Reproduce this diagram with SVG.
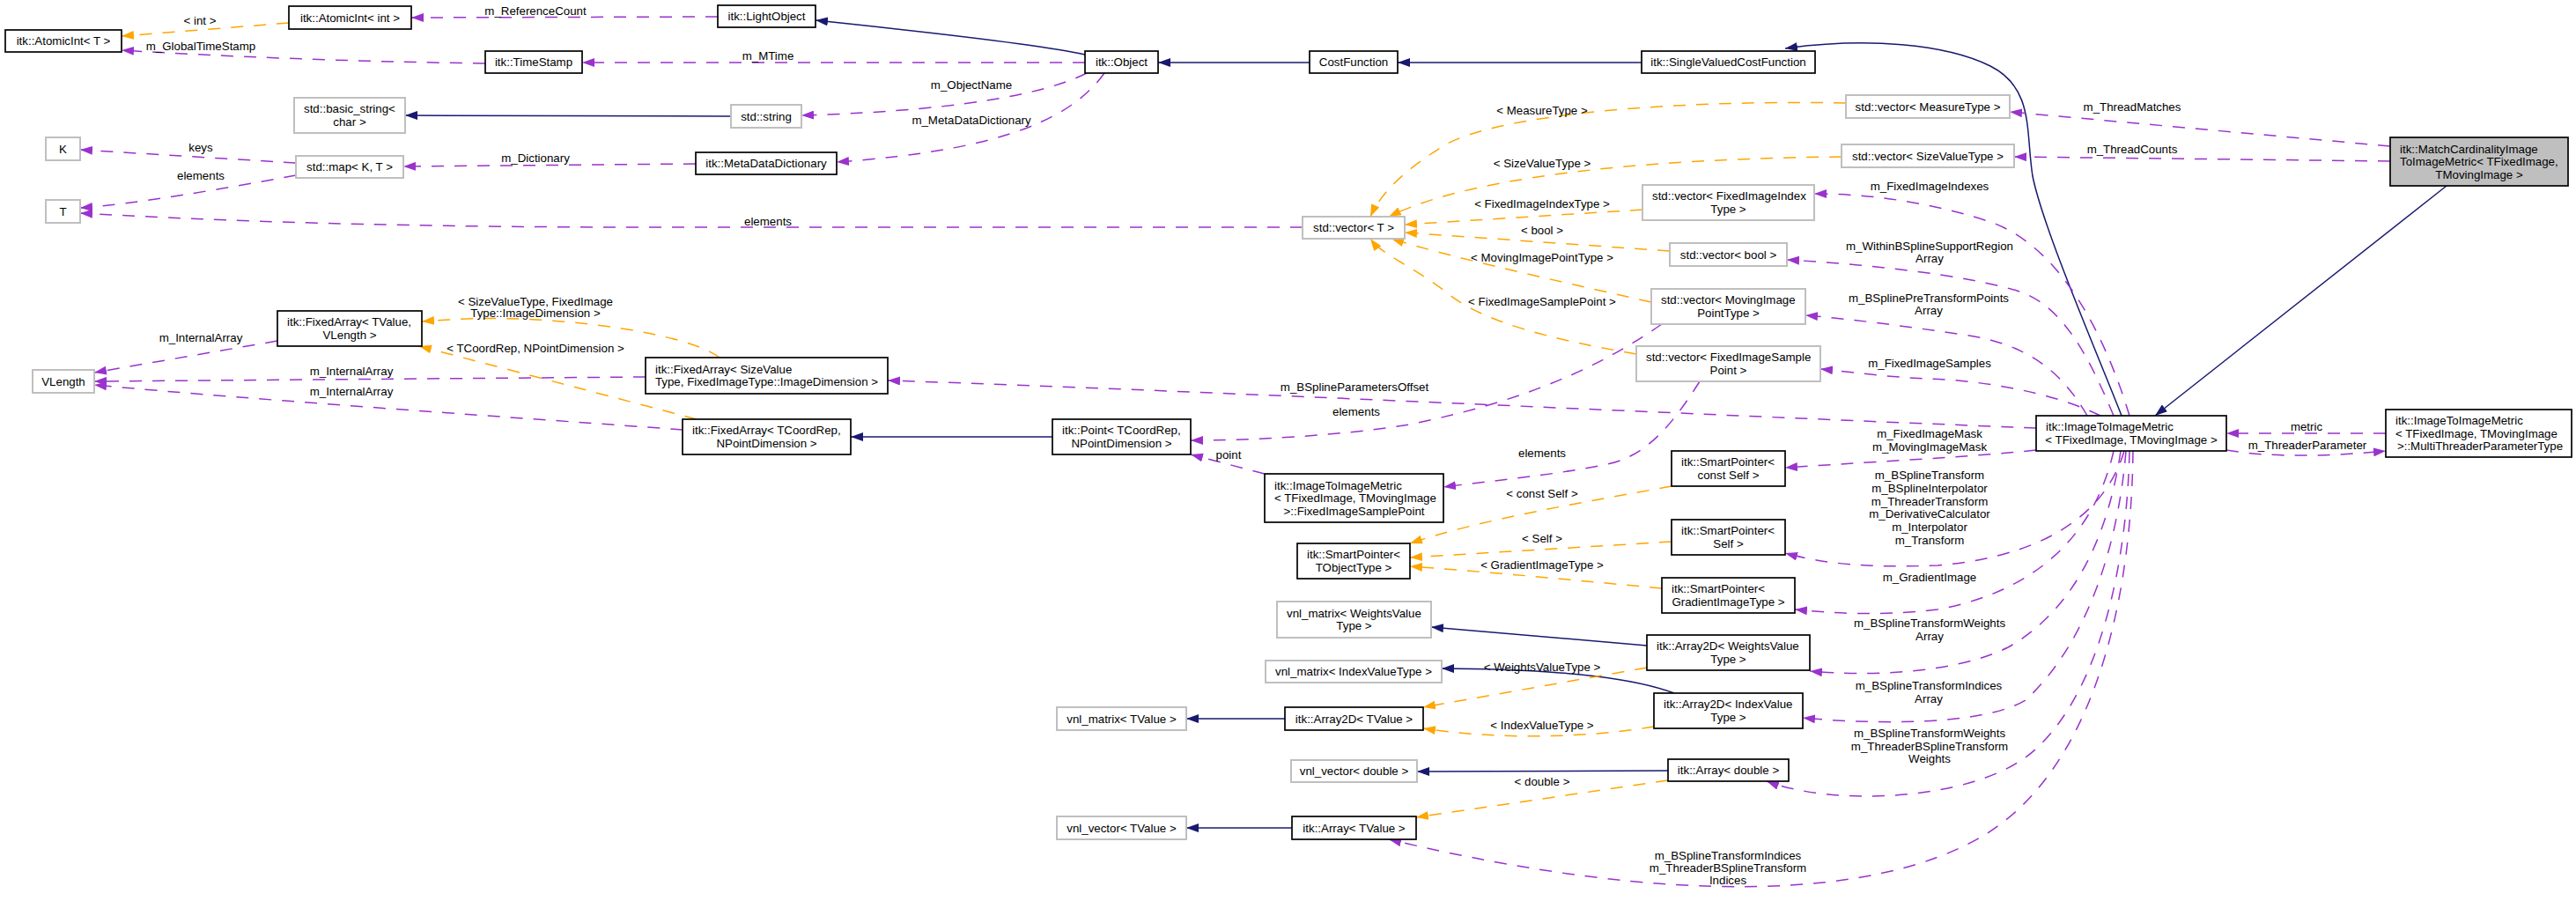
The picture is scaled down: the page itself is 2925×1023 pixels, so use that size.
<svg xmlns="http://www.w3.org/2000/svg" width="2925" height="1023" viewBox="0 0 2925 1023">
<style>
.n rect{fill:#fff;stroke:#000;stroke-width:1.7}
.n.g rect{stroke:#bfbfbf;stroke-width:2}
.n.m rect{fill:#bfbfbf}
text{font-family:"Liberation Sans",Arial,Helvetica,sans-serif;font-size:13.3px;fill:#000}
.c{text-anchor:middle}
#edges path{fill:none;stroke-width:1.5}
#edges .nv{stroke:#191970;marker-end:url(#an)}
#edges .pu{stroke:#9a32cd;stroke-dasharray:14,12;marker-end:url(#ap)}
#edges .or{stroke:#ffa500;stroke-dasharray:14,12;marker-end:url(#ao)}
</style>
<defs>
<marker id="an" markerUnits="userSpaceOnUse" markerWidth="14" markerHeight="10" refX="14" refY="5" orient="auto"><path d="M0,0L14,5L0,10z" fill="#191970"/></marker>
<marker id="ap" markerUnits="userSpaceOnUse" markerWidth="14" markerHeight="10" refX="14" refY="5" orient="auto"><path d="M0,0L14,5L0,10z" fill="#9a32cd"/></marker>
<marker id="ao" markerUnits="userSpaceOnUse" markerWidth="14" markerHeight="10" refX="14" refY="5" orient="auto"><path d="M0,0L14,5L0,10z" fill="#ffa500"/></marker>
</defs>
<rect width="2925" height="1023" fill="#fff"/>
<g id="edges">
<path class="nv" d="M1232,62 C1190,52 1050,36 926,23"/>
<path class="nv" d="M1487,71 L1315,71"/>
<path class="nv" d="M1864,71 L1587,71"/>
<path class="nv" d="M2409,472 C2385,410 2320,260 2308,200 C2300,150 2310,100 2260,75 C2210,50 2120,42 2027,55"/>
<path class="nv" d="M2778,211 L2447,472"/>
<path class="nv" d="M1195,496 L966,496"/>
<path class="nv" d="M1870,733 L1625,712"/>
<path class="nv" d="M1901,787 C1860,772 1790,760 1637,759"/>
<path class="nv" d="M1459,816 L1347,816"/>
<path class="nv" d="M1894,875 L1609,876"/>
<path class="nv" d="M1467,940 L1347,940"/>
<path class="nv" d="M830,132 L460,131"/>
<path class="or" d="M328,26 L138,41"/>
<path class="or" d="M2096,117 C1900,113 1700,130 1640,165 C1600,190 1570,215 1556,246"/>
<path class="or" d="M2091,178 C1900,180 1680,195 1577,246"/>
<path class="or" d="M1865,238 L1595,255"/>
<path class="or" d="M1896,285 L1595,264"/>
<path class="or" d="M1875,343 C1750,315 1640,290 1580,271"/>
<path class="or" d="M1858,402 C1760,385 1680,365 1640,330 C1600,300 1570,290 1556,271"/>
<path class="or" d="M817,406 C790,385 700,368 609,363 C560,360 520,362 479,365"/>
<path class="or" d="M791,476 C700,452 560,415 476,393"/>
<path class="or" d="M1898,552 C1800,570 1680,590 1601,617"/>
<path class="or" d="M1898,615 L1601,633"/>
<path class="or" d="M1887,668 C1800,660 1700,650 1601,643"/>
<path class="or" d="M1870,758 L1616,803"/>
<path class="or" d="M1878,825 C1800,838 1700,840 1616,827"/>
<path class="or" d="M1894,886 L1608,928"/>
<path class="pu" d="M815,19 L467,20"/>
<path class="pu" d="M551,72 C400,70 250,64 138,57"/>
<path class="pu" d="M1232,71 L661,71"/>
<path class="pu" d="M1234,83 C1200,100 1120,125 910,131"/>
<path class="pu" d="M1254,83 C1220,130 1150,170 950,184"/>
<path class="pu" d="M790,186 L458,189"/>
<path class="pu" d="M336,185 L91,170"/>
<path class="pu" d="M336,199 C250,215 150,232 91,236"/>
<path class="pu" d="M1479,258 L735,258 C400,258 200,248 91,242"/>
<path class="pu" d="M315,387 L107,423"/>
<path class="pu" d="M733,428 L107,433"/>
<path class="pu" d="M775,488 C600,475 300,455 107,437"/>
<path class="pu" d="M2714,166 L2282,127"/>
<path class="pu" d="M2714,183 L2287,178"/>
<path class="pu" d="M2418,472 C2390,380 2340,280 2260,252 C2200,232 2130,220 2060,220"/>
<path class="pu" d="M2400,472 C2370,400 2340,345 2290,330 C2230,312 2120,300 2029,295"/>
<path class="pu" d="M2370,472 C2340,420 2300,390 2230,380 C2160,370 2100,362 2050,358"/>
<path class="pu" d="M2385,472 C2330,445 2250,432 2190,430 C2140,428 2100,422 2067,419"/>
<path class="pu" d="M2312,486 C1900,470 1400,445 1008,432"/>
<path class="pu" d="M1887,368 C1840,400 1760,450 1600,482 C1520,495 1420,500 1352,500"/>
<path class="pu" d="M1436,538 L1352,516"/>
<path class="pu" d="M1930,433 C1900,480 1870,520 1820,528 C1760,540 1700,545 1639,553"/>
<path class="pu" d="M2312,511 C2250,518 2100,526 2027,531"/>
<path class="pu" d="M2412,512 C2395,570 2340,630 2200,642 C2120,645 2070,640 2027,628"/>
<path class="pu" d="M2400,512 C2380,600 2320,670 2200,692 C2130,700 2080,696 2038,692"/>
<path class="pu" d="M2408,512 C2395,600 2360,690 2280,735 C2220,765 2120,768 2055,762"/>
<path class="pu" d="M2414,512 C2405,620 2370,730 2300,795 C2250,825 2120,822 2047,815"/>
<path class="pu" d="M2418,512 C2415,650 2380,800 2300,860 C2230,910 2080,915 2006,887"/>
<path class="pu" d="M2422,512 C2420,700 2370,880 2250,950 C2130,1020 1900,1030 1577,953"/>
<path class="pu" d="M2709,492 L2528,492"/>
<path class="pu" d="M2528,511 C2580,520 2650,518 2709,512"/>
</g>
<g id="edge-labels">
<text class="c" x="227" y="28">&lt; int &gt;</text>
<text class="c" x="228" y="57">m_GlobalTimeStamp</text>
<text class="c" x="608" y="17">m_ReferenceCount</text>
<text class="c" x="872" y="68">m_MTime</text>
<text class="c" x="1103" y="101">m_ObjectName</text>
<text class="c" x="1103" y="141">m_MetaDataDictionary</text>
<text class="c" x="228" y="172">keys</text>
<text class="c" x="228" y="204">elements</text>
<text class="c" x="608" y="184">m_Dictionary</text>
<text class="c" x="872" y="256">elements</text>
<text class="c" x="1751" y="130">&lt; MeasureType &gt;</text>
<text class="c" x="1751" y="190">&lt; SizeValueType &gt;</text>
<text class="c" x="1751" y="236">&lt; FixedImageIndexType &gt;</text>
<text class="c" x="1751" y="266">&lt; bool &gt;</text>
<text class="c" x="1751" y="297">&lt; MovingImagePointType &gt;</text>
<text class="c" x="1751" y="347">&lt; FixedImageSamplePoint &gt;</text>
<text class="c" x="2421" y="126">m_ThreadMatches</text>
<text class="c" x="2421" y="174">m_ThreadCounts</text>
<text class="c" x="2191" y="216">m_FixedImageIndexes</text>
<text class="c" x="2191" y="284">m_WithinBSplineSupportRegion</text>
<text class="c" x="2191" y="298">Array</text>
<text class="c" x="2190" y="343">m_BSplinePreTransformPoints</text>
<text class="c" x="2190" y="357">Array</text>
<text class="c" x="2191" y="417">m_FixedImageSamples</text>
<text class="c" x="228" y="388">m_InternalArray</text>
<text class="c" x="399" y="426">m_InternalArray</text>
<text class="c" x="399" y="449">m_InternalArray</text>
<text class="c" x="608" y="400">&lt; TCoordRep, NPointDimension &gt;</text>
<text class="c" x="608" y="347">&lt; SizeValueType, FixedImage</text>
<text class="c" x="608" y="360">Type::ImageDimension &gt;</text>
<text class="c" x="1538" y="444">m_BSplineParametersOffset</text>
<text class="c" x="1395" y="521">point</text>
<text class="c" x="1540" y="472">elements</text>
<text class="c" x="1751" y="519">elements</text>
<text class="c" x="1751" y="565">&lt; const Self &gt;</text>
<text class="c" x="1751" y="616">&lt; Self &gt;</text>
<text class="c" x="1751" y="646">&lt; GradientImageType &gt;</text>
<text class="c" x="2191" y="497">m_FixedImageMask</text>
<text class="c" x="2191" y="512">m_MovingImageMask</text>
<text class="c" x="2191" y="544">m_BSplineTransform</text>
<text class="c" x="2191" y="559">m_BSplineInterpolator</text>
<text class="c" x="2191" y="574">m_ThreaderTransform</text>
<text class="c" x="2191" y="588">m_DerivativeCalculator</text>
<text class="c" x="2191" y="603">m_Interpolator</text>
<text class="c" x="2191" y="618">m_Transform</text>
<text class="c" x="2191" y="660">m_GradientImage</text>
<text class="c" x="2619" y="489">metric</text>
<text class="c" x="2620" y="510">m_ThreaderParameter</text>
<text class="c" x="2191" y="712">m_BSplineTransformWeights</text>
<text class="c" x="2191" y="727">Array</text>
<text class="c" x="2190" y="783">m_BSplineTransformIndices</text>
<text class="c" x="2190" y="798">Array</text>
<text class="c" x="2191" y="837">m_BSplineTransformWeights</text>
<text class="c" x="2191" y="852">m_ThreaderBSplineTransform</text>
<text class="c" x="2191" y="866">Weights</text>
<text class="c" x="1751" y="762">&lt; WeightsValueType &gt;</text>
<text class="c" x="1751" y="828">&lt; IndexValueType &gt;</text>
<text class="c" x="1751" y="892">&lt; double &gt;</text>
<text class="c" x="1962" y="976">m_BSplineTransformIndices</text>
<text class="c" x="1962" y="990">m_ThreaderBSplineTransform</text>
<text class="c" x="1962" y="1004">Indices</text>
</g>
<g id="atomicT" class="n"><rect x="6" y="34" width="132" height="25"/><text class="c" x="72" y="51">itk::AtomicInt&lt; T &gt;</text></g>
<g id="atomicInt" class="n"><rect x="328" y="7" width="139" height="26"/><text class="c" x="397.5" y="24.7">itk::AtomicInt&lt; int &gt;</text></g>
<g id="lightObject" class="n"><rect x="815" y="6" width="111" height="25"/><text class="c" x="870.5" y="23.2">itk::LightObject</text></g>
<g id="timeStamp" class="n"><rect x="551" y="58" width="110" height="25"/><text class="c" x="606" y="75.2">itk::TimeStamp</text></g>
<g id="object" class="n"><rect x="1232" y="58" width="83" height="25"/><text class="c" x="1273.5" y="75.2">itk::Object</text></g>
<g id="costFunction" class="n"><rect x="1487" y="58" width="100" height="25"/><text class="c" x="1537" y="75.2">CostFunction</text></g>
<g id="singleValuedCostFunction" class="n"><rect x="1864" y="58" width="197" height="25"/><text class="c" x="1962.5" y="75.2">itk::SingleValuedCostFunction</text></g>
<g id="basicString" class="n g"><rect x="334" y="111" width="126" height="40"/><text x="345" y="128">std::basic_string&lt;</text><text class="c" x="397" y="142.5">char &gt;</text></g>
<g id="stdString" class="n g"><rect x="830" y="119" width="80" height="26"/><text class="c" x="870" y="136.7">std::string</text></g>
<g id="nodeK" class="n g"><rect x="52" y="156" width="39" height="26"/><text class="c" x="71.5" y="173.7">K</text></g>
<g id="stdMap" class="n g"><rect x="336" y="177" width="122" height="25"/><text class="c" x="397" y="194.2">std::map&lt; K, T &gt;</text></g>
<g id="metaDataDictionary" class="n"><rect x="790" y="173" width="160" height="25"/><text class="c" x="870" y="190.2">itk::MetaDataDictionary</text></g>
<g id="nodeT" class="n g"><rect x="52" y="227" width="39" height="26"/><text class="c" x="71.5" y="244.7">T</text></g>
<g id="vectorT" class="n g"><rect x="1479" y="246" width="116" height="25"/><text class="c" x="1537" y="263.2">std::vector&lt; T &gt;</text></g>
<g id="vectorMeasure" class="n g"><rect x="2096" y="108" width="186" height="26"/><text class="c" x="2189" y="125.7">std::vector&lt; MeasureType &gt;</text></g>
<g id="vectorSize" class="n g"><rect x="2091" y="164" width="196" height="26"/><text class="c" x="2189" y="181.7">std::vector&lt; SizeValueType &gt;</text></g>
<g id="vectorFixedIndex" class="n g"><rect x="1865" y="210" width="195" height="40"/><text x="1876" y="227">std::vector&lt; FixedImageIndex</text><text class="c" x="1962.5" y="241.5">Type &gt;</text></g>
<g id="vectorBool" class="n g"><rect x="1896" y="276" width="133" height="26"/><text class="c" x="1962.5" y="293.7">std::vector&lt; bool &gt;</text></g>
<g id="vectorMovingPoint" class="n g"><rect x="1875" y="328" width="175" height="40"/><text x="1886" y="345">std::vector&lt; MovingImage</text><text class="c" x="1962.5" y="359.5">PointType &gt;</text></g>
<g id="vectorFixedSample" class="n g"><rect x="1858" y="393" width="209" height="40"/><text x="1869" y="410">std::vector&lt; FixedImageSample</text><text class="c" x="1962.5" y="424.5">Point &gt;</text></g>
<g id="matchCardinality" class="n m"><rect x="2714" y="156" width="202" height="55"/><text x="2725" y="173.5">itk::MatchCardinalityImage</text><text x="2725" y="188">ToImageMetric&lt; TFixedImage,</text><text class="c" x="2815" y="202.5">TMovingImage &gt;</text></g>
<g id="fixedArrayTValue" class="n"><rect x="315" y="353" width="164" height="40"/><text x="326" y="370">itk::FixedArray&lt; TValue,</text><text class="c" x="397" y="384.5">VLength &gt;</text></g>
<g id="vLength" class="n g"><rect x="37" y="420" width="70" height="26"/><text class="c" x="72" y="437.7">VLength</text></g>
<g id="fixedArraySize" class="n"><rect x="733" y="406" width="275" height="41"/><text x="744" y="423.5">itk::FixedArray&lt; SizeValue</text><text class="c" x="870.5" y="438">Type, FixedImageType::ImageDimension &gt;</text></g>
<g id="fixedArrayCoord" class="n"><rect x="775" y="476" width="191" height="40"/><text x="786" y="493">itk::FixedArray&lt; TCoordRep,</text><text class="c" x="870.5" y="507.5">NPointDimension &gt;</text></g>
<g id="point" class="n"><rect x="1195" y="476" width="157" height="40"/><text x="1206" y="493">itk::Point&lt; TCoordRep,</text><text class="c" x="1273.5" y="507.5">NPointDimension &gt;</text></g>
<g id="fixedImageSamplePoint" class="n"><rect x="1436" y="538" width="203" height="55"/><text x="1447" y="555.5">itk::ImageToImageMetric</text><text x="1447" y="570">&lt; TFixedImage, TMovingImage</text><text class="c" x="1537.5" y="584.5">&gt;::FixedImageSamplePoint</text></g>
<g id="imageToImageMetric" class="n"><rect x="2312" y="472" width="216" height="40"/><text x="2323" y="489">itk::ImageToImageMetric</text><text class="c" x="2420" y="503.5">&lt; TFixedImage, TMovingImage &gt;</text></g>
<g id="multiThreaderParameterType" class="n"><rect x="2709" y="465" width="211" height="54"/><text x="2720" y="482">itk::ImageToImageMetric</text><text x="2720" y="496.5">&lt; TFixedImage, TMovingImage</text><text class="c" x="2816" y="511">&gt;::MultiThreaderParameterType</text></g>
<g id="smartPointerConstSelf" class="n"><rect x="1898" y="512" width="129" height="40"/><text x="1909" y="529">itk::SmartPointer&lt;</text><text class="c" x="1962.5" y="543.5">const Self &gt;</text></g>
<g id="smartPointerSelf" class="n"><rect x="1898" y="590" width="129" height="40"/><text x="1909" y="607">itk::SmartPointer&lt;</text><text class="c" x="1962.5" y="621.5">Self &gt;</text></g>
<g id="smartPointerTObject" class="n"><rect x="1473" y="617" width="128" height="40"/><text x="1484" y="634">itk::SmartPointer&lt;</text><text class="c" x="1537" y="648.5">TObjectType &gt;</text></g>
<g id="smartPointerGradient" class="n"><rect x="1887" y="656" width="151" height="40"/><text x="1898" y="673">itk::SmartPointer&lt;</text><text class="c" x="1962.5" y="687.5">GradientImageType &gt;</text></g>
<g id="vnlMatrixWeights" class="n g"><rect x="1450" y="683" width="175" height="41"/><text x="1461" y="700.5">vnl_matrix&lt; WeightsValue</text><text class="c" x="1537.5" y="715">Type &gt;</text></g>
<g id="vnlMatrixIndex" class="n g"><rect x="1437" y="750" width="200" height="25"/><text class="c" x="1537" y="767.2">vnl_matrix&lt; IndexValueType &gt;</text></g>
<g id="array2DTValue" class="n"><rect x="1459" y="803" width="157" height="26"/><text class="c" x="1537.5" y="820.7">itk::Array2D&lt; TValue &gt;</text></g>
<g id="vnlMatrixTValue" class="n g"><rect x="1200" y="803" width="147" height="26"/><text class="c" x="1273.5" y="820.7">vnl_matrix&lt; TValue &gt;</text></g>
<g id="vnlVectorDouble" class="n g"><rect x="1466" y="863" width="143" height="25"/><text class="c" x="1537.5" y="880.2">vnl_vector&lt; double &gt;</text></g>
<g id="arrayTValue" class="n"><rect x="1467" y="927" width="141" height="26"/><text class="c" x="1537.5" y="944.7">itk::Array&lt; TValue &gt;</text></g>
<g id="vnlVectorTValue" class="n g"><rect x="1200" y="927" width="147" height="26"/><text class="c" x="1273.5" y="944.7">vnl_vector&lt; TValue &gt;</text></g>
<g id="array2DWeights" class="n"><rect x="1870" y="721" width="185" height="40"/><text x="1881" y="738">itk::Array2D&lt; WeightsValue</text><text class="c" x="1962.5" y="752.5">Type &gt;</text></g>
<g id="array2DIndex" class="n"><rect x="1878" y="787" width="169" height="40"/><text x="1889" y="804">itk::Array2D&lt; IndexValue</text><text class="c" x="1962.5" y="818.5">Type &gt;</text></g>
<g id="arrayDouble" class="n"><rect x="1894" y="862" width="137" height="25"/><text class="c" x="1962.5" y="879.2">itk::Array&lt; double &gt;</text></g>
</svg>
